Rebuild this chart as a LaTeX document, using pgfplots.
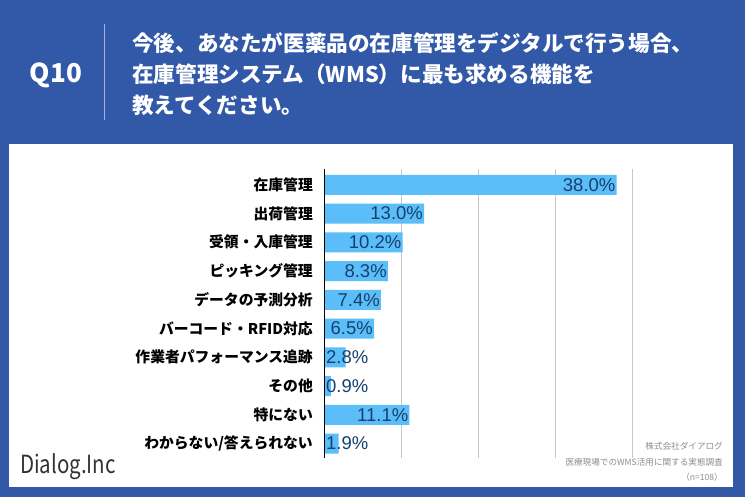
\documentclass[border=0pt]{standalone}
\usepackage{pgfplots}
\pgfplotsset{compat=1.18}
\usepackage{pgfplotstable}
\usepackage{fontspec}
\setmainfont{Liberation Sans}
\newfontfamily\jp{Noto Sans CJK JP}
\definecolor{bg}{RGB}{50,88,168}
\definecolor{barc}{RGB}{91,190,249}
\definecolor{lbl}{RGB}{22,64,112}
\definecolor{foot}{RGB}{140,140,140}
\pgfplotstableread{
idx val
0 38.0
1 13.0
2 10.2
3 8.3
4 7.4
5 6.5
8 11.1
}\longtable
\pgfplotstableread{
idx val
6 2.8
7 0.9
9 1.9
}\shorttable
\begin{document}
\begin{tikzpicture}[x=1pt,y=1pt]
\fill[bg] (0,0) rectangle (745,497);
\fill[white] (9,10) rectangle (733,353);
\node[anchor=center, text=white, inner sep=0pt, font=\jp\bfseries\fontsize{26}{26}\selectfont] at (56,422) {Q10};
\draw[color=bg!45!white, line width=1pt] (104,473) -- (104,377);
\node[anchor=west, text=white, inner sep=0pt, font=\jp\bfseries\fontsize{21.6}{21.6}\selectfont] at (132,454) {今後、あなたが医薬品の在庫管理をデジタルで行う場合、};
\node[anchor=west, text=white, inner sep=0pt, font=\jp\bfseries\fontsize{21.6}{21.6}\selectfont] at (132,423) {在庫管理システム（WMS）に最も求める機能を};
\node[anchor=west, text=white, inner sep=0pt, font=\jp\bfseries\fontsize{21.6}{21.6}\selectfont] at (132,392) {教えてください。};
\node[anchor=east, text=foot, inner sep=0pt, font=\jp\fontsize{8.6}{8.6}\selectfont] at (723,51) {株式会社ダイアログ};
\node[anchor=east, text=foot, inner sep=0pt, font=\jp\fontsize{8.6}{8.6}\selectfont] at (723,35) {医療現場でのWMS活用に関する実態調査};
\node[anchor=east, text=foot, inner sep=0pt, font=\jp\fontsize{8.6}{8.6}\selectfont] at (723,20) {（n=108）};
\node[anchor=west, text=black!80, inner sep=0pt, xscale=0.82, font=\jp\fontsize{25}{25}\selectfont] at (20,30) {Dialog.Inc};
\begin{axis}[
  at={(324pt,39pt)}, anchor=south west, scale only axis,
  width=308pt, height=289pt,
  xmin=0, xmax=40, ymin=-0.55, ymax=9.5, y dir=reverse,
  axis line style={draw=none}, tick style={draw=none},
  xtick={10,20,30,40}, xticklabels={},
  xmajorgrids, major grid style={color=black!22, line width=0.6pt},
  ytick={0,...,9},
  yticklabels={在庫管理,出荷管理,受領・入庫管理,ピッキング管理,データの予測分析,バーコード・RFID対応,作業者パフォーマンス追跡,その他,特にない,わからない/答えられない},
  yticklabel style={font=\jp\bfseries\fontsize{14.8}{14.8}\selectfont, inner sep=0pt, xshift=-11pt, text=black},
  clip=false,
]
\addplot[xbar, bar width=20pt, bar shift=0pt, fill=barc, draw=none,
  nodes near coords={\pgfmathprintnumber[fixed,fixed zerofill,precision=1,assume math mode=true]{\pgfplotspointmeta}\%},
  point meta=explicit,
  every node near coord/.append style={anchor=east, inner sep=1pt, text=lbl, font=\fontsize{18.5}{18.5}\selectfont}]
  table[x=val, y=idx, meta=val] {\longtable};
\addplot[xbar, bar width=20pt, bar shift=0pt, fill=barc, draw=none]
  table[x=val, y=idx] {\shorttable};
\addplot[xbar, bar width=20pt, bar shift=0pt, fill=none, draw=none,
  nodes near coords={\pgfmathprintnumber[fixed,fixed zerofill,precision=1,assume math mode=true]{\pgfplotspointmeta}\%},
  point meta=explicit,
  every node near coord/.append style={anchor=west, inner sep=2pt, text=lbl, font=\fontsize{18.5}{18.5}\selectfont}]
  table[x expr=0, y=idx, meta=val] {\shorttable};
\draw[black, line width=0.8pt] (axis cs:0,-0.55) -- (axis cs:0,9.5);
\end{axis}
\end{tikzpicture}
\end{document}
